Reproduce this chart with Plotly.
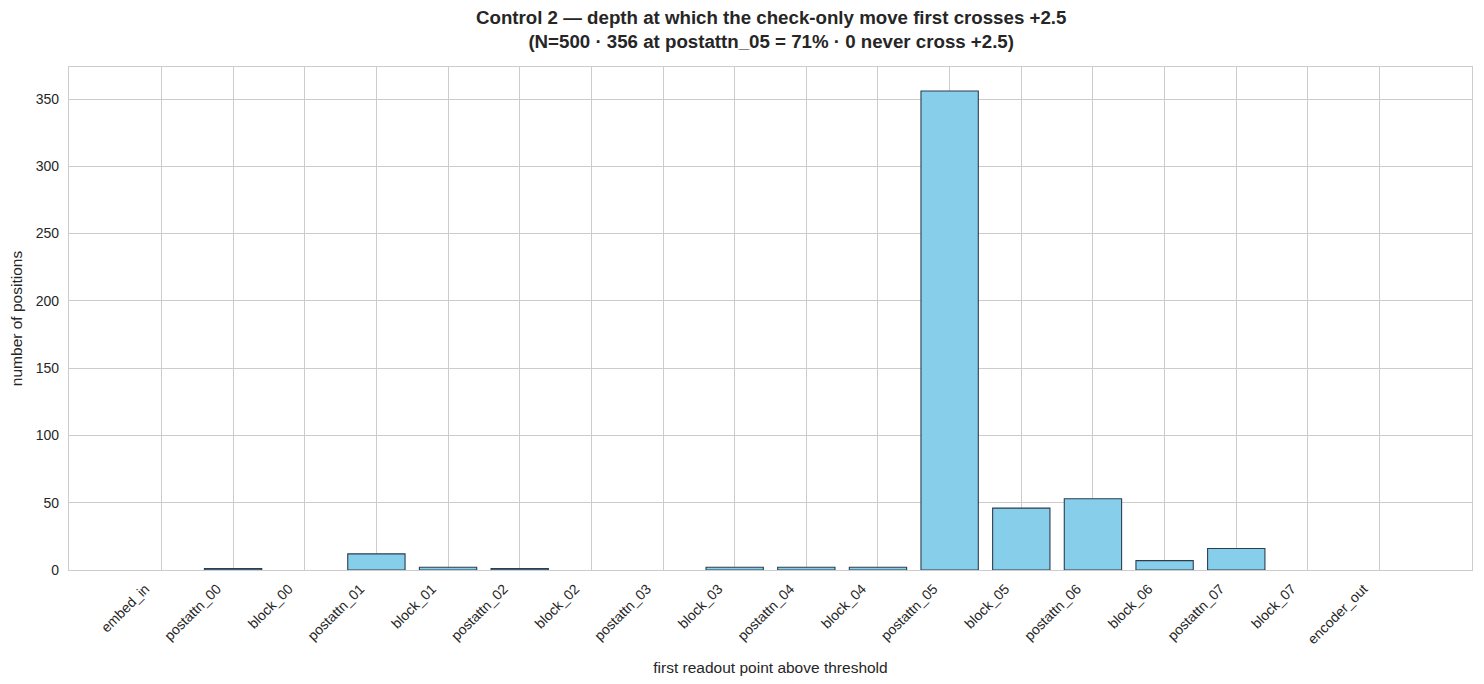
import plotly.graph_objects as go

# readout points along the encoder
readout_points = [
    'embed_in', 'postattn_00', 'block_00', 'postattn_01', 'block_01',
    'postattn_02', 'block_02', 'postattn_03', 'block_03', 'postattn_04',
    'block_04', 'postattn_05', 'block_05', 'postattn_06', 'block_06',
    'postattn_07', 'block_07', 'encoder_out',
]
# number of positions whose first crossing of +2.5 is at each point
first_cross_counts = [0, 1, 0, 12, 2, 1, 0, 0, 2, 2, 2, 356, 46, 53, 7, 16, 0, 0]

y_ticks = [0, 50, 100, 150, 200, 250, 300, 350]

title_text = ('Control 2 \u2014 depth at which the check-only move first crosses +2.5<br>'
              '(N=500 \u00b7 356 at postattn_05 = 71% \u00b7 0 never cross +2.5)')

idx = list(range(len(readout_points)))

# matplotlib doesn't show an outline on empty bars, so drop it there
edge_widths = [1.1 if c > 0 else 0 for c in first_cross_counts]

fig = go.Figure(go.Bar(
    x=idx,
    y=first_cross_counts,
    width=0.8,
    marker=dict(color='#87CEEB', line=dict(color='#2c3e50', width=edge_widths)),
    hovertemplate='%{text}: %{y}<extra></extra>',
    text=readout_points,
    textposition='none',
))

# page body has an 8px margin, so the figure is a bit smaller than the window
fig.update_layout(
    width=1468,
    height=668,
    paper_bgcolor='white',
    plot_bgcolor='white',
    font=dict(family='Liberation Sans, Arial, sans-serif', size=14, color='#262626'),
    margin=dict(l=61, r=4, t=59, b=106, autoexpand=False),
    showlegend=False,
)

# two-line bold title above the axes
fig.add_annotation(
    text='<b>' + title_text + '</b>',
    xref='paper', yref='paper', x=0.5, y=1,
    xanchor='center', yanchor='bottom', yshift=13,
    showarrow=False, align='center',
    font=dict(size=18.7, color='#262626'),
)

fig.update_xaxes(
    range=[-1.29, 18.29],
    tickmode='array',
    tickvals=idx,
    ticktext=readout_points,
    tickangle=-45,
    ticklabelshift=-16,
    ticklabelstandoff=4,
    automargin=False,
    showgrid=True,
    gridcolor='#cccccc',
    gridwidth=1,
    showline=True,
    linecolor='#cccccc',
    linewidth=1.25,
    mirror=True,
    ticks='',
    zeroline=False,
    title=dict(text='first readout point above threshold', font=dict(size=15.5), standoff=18),
)
fig.update_yaxes(
    range=[0, 373.8],
    tickmode='array',
    tickvals=y_ticks,
    ticklabelstandoff=6,
    automargin=False,
    showgrid=True,
    gridcolor='#cccccc',
    gridwidth=1,
    showline=True,
    linecolor='#cccccc',
    linewidth=1.25,
    mirror=True,
    ticks='',
    zeroline=False,
    title=dict(text='number of positions', font=dict(size=15.5), standoff=14),
)

fig.write_html("out.html")
